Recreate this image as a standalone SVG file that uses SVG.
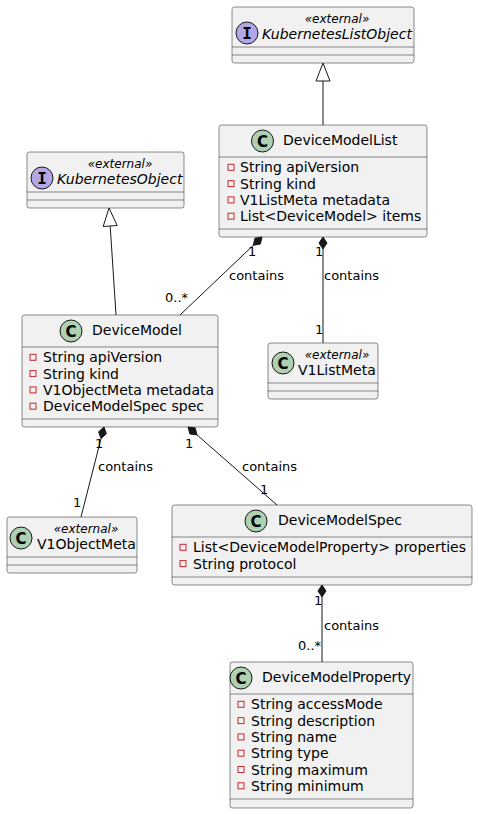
<svg xmlns="http://www.w3.org/2000/svg" width="478" height="814" viewBox="0 0 478 814">
<style>
.box{fill:#F1F1F1;stroke:#181818;stroke-width:0.5}
.sep{stroke:#181818;stroke-width:0.5}
.cc{fill:#ADD1B2;stroke:#181818;stroke-width:1}
.ic{fill:#B4A7E5;stroke:#181818;stroke-width:1}
.cl{font-family:"DejaVu Sans",sans-serif;font-weight:bold;font-size:15px;fill:#000;text-anchor:middle}
.il{font-family:"DejaVu Sans Mono",monospace;font-weight:bold;font-size:16px;fill:#000;text-anchor:middle}
.t{font-family:"DejaVu Sans",sans-serif;font-size:14px;fill:#000}
.it{font-family:"DejaVu Sans",sans-serif;font-size:14px;font-style:italic;fill:#000}
.st{font-family:"DejaVu Sans",sans-serif;font-size:12px;font-style:italic;fill:#000;text-anchor:middle}
.pv{fill:none;stroke:#C82930;stroke-width:1}
.e{stroke:#181818;stroke-width:1;fill:none}
.d{fill:#181818;stroke:#181818;stroke-width:1}
.tri{fill:#FFFFFF;stroke:#181818;stroke-width:1}
.lb{font-family:"DejaVu Sans",sans-serif;font-size:13px;fill:#000}
</style>
<rect width="478" height="814" fill="#FFFFFF"/>

<g id="KubernetesListObject">
<rect class="box" x="232" y="7" width="182" height="56" rx="2.5"/>
<circle class="ic" cx="247" cy="33" r="11"/>
<text class="il" x="247" y="38.5">I</text>
<text class="st" x="337" y="23">«external»</text>
<text class="it" x="262" y="39">KubernetesListObject</text>
<line class="sep" x1="232" y1="47" x2="414" y2="47"/>
<line class="sep" x1="232" y1="55" x2="414" y2="55"/>
</g>

<g id="KubernetesObject">
<rect class="box" x="27" y="152" width="157" height="56" rx="2.5"/>
<circle class="ic" cx="42" cy="178" r="11"/>
<text class="il" x="42" y="183.5">I</text>
<text class="st" x="120" y="168">«external»</text>
<text class="it" x="57" y="184">KubernetesObject</text>
<line class="sep" x1="27" y1="192" x2="184" y2="192"/>
<line class="sep" x1="27" y1="200" x2="184" y2="200"/>
</g>

<g id="DeviceModelList">
<rect class="box" x="219" y="125" width="208" height="112" rx="2.5"/>
<circle class="cc" cx="262.5" cy="141" r="11"/>
<text class="cl" x="262.5" y="146.5">C</text>
<text class="t" x="283" y="145">DeviceModelList</text>
<line class="sep" x1="219" y1="157" x2="427" y2="157"/>
<rect class="pv" x="228" y="164.3" width="6" height="6"/>
<text class="t" x="240" y="172.3">String apiVersion</text>
<rect class="pv" x="228" y="180.6" width="6" height="6"/>
<text class="t" x="240" y="188.6">String kind</text>
<rect class="pv" x="228" y="196.9" width="6" height="6"/>
<text class="t" x="240" y="204.9">V1ListMeta metadata</text>
<rect class="pv" x="228" y="213.2" width="6" height="6"/>
<text class="t" x="240" y="221.2">List&lt;DeviceModel&gt; items</text>
<line class="sep" x1="219" y1="229" x2="427" y2="229"/>
</g>

<g id="DeviceModel">
<rect class="box" x="22" y="315" width="196" height="112" rx="2.5"/>
<circle class="cc" cx="71" cy="331" r="11"/>
<text class="cl" x="71" y="336.5">C</text>
<text class="t" x="92" y="335">DeviceModel</text>
<line class="sep" x1="22" y1="347" x2="218" y2="347"/>
<rect class="pv" x="30" y="354.3" width="6" height="6"/>
<text class="t" x="43" y="362.3">String apiVersion</text>
<rect class="pv" x="30" y="370.6" width="6" height="6"/>
<text class="t" x="43" y="378.6">String kind</text>
<rect class="pv" x="30" y="386.9" width="6" height="6"/>
<text class="t" x="43" y="394.9">V1ObjectMeta metadata</text>
<rect class="pv" x="30" y="403.2" width="6" height="6"/>
<text class="t" x="43" y="411.2">DeviceModelSpec spec</text>
<line class="sep" x1="22" y1="419" x2="218" y2="419"/>
</g>

<g id="V1ListMeta">
<rect class="box" x="268" y="343" width="110" height="56" rx="2.5"/>
<circle class="cc" cx="283" cy="363" r="11"/>
<text class="cl" x="283" y="368.5">C</text>
<text class="st" x="337" y="359">«external»</text>
<text class="t" x="298" y="375">V1ListMeta</text>
<line class="sep" x1="268" y1="383" x2="378" y2="383"/>
<line class="sep" x1="268" y1="391" x2="378" y2="391"/>
</g>

<g id="V1ObjectMeta">
<rect class="box" x="7" y="517" width="130" height="56" rx="2.5"/>
<circle class="cc" cx="21" cy="538" r="11"/>
<text class="cl" x="21" y="543.5">C</text>
<text class="st" x="86" y="533">«external»</text>
<text class="t" x="37" y="549">V1ObjectMeta</text>
<line class="sep" x1="7" y1="557" x2="137" y2="557"/>
<line class="sep" x1="7" y1="565" x2="137" y2="565"/>
</g>

<g id="DeviceModelSpec">
<rect class="box" x="172" y="505" width="300" height="80" rx="2.5"/>
<circle class="cc" cx="256" cy="521" r="11"/>
<text class="cl" x="256" y="526.5">C</text>
<text class="t" x="278" y="525">DeviceModelSpec</text>
<line class="sep" x1="172" y1="537" x2="472" y2="537"/>
<rect class="pv" x="180" y="544.3" width="6" height="6"/>
<text class="t" x="193" y="552.3">List&lt;DeviceModelProperty&gt; properties</text>
<rect class="pv" x="180" y="560.6" width="6" height="6"/>
<text class="t" x="193" y="568.6">String protocol</text>
<line class="sep" x1="172" y1="577" x2="472" y2="577"/>
</g>

<g id="DeviceModelProperty">
<rect class="box" x="230" y="662" width="183" height="146" rx="2.5"/>
<circle class="cc" cx="241" cy="678" r="11"/>
<text class="cl" x="241" y="683.5">C</text>
<text class="t" x="262" y="682">DeviceModelProperty</text>
<line class="sep" x1="230" y1="694" x2="413" y2="694"/>
<rect class="pv" x="238" y="701.3" width="6" height="6"/>
<text class="t" x="251" y="709.3">String accessMode</text>
<rect class="pv" x="238" y="717.6" width="6" height="6"/>
<text class="t" x="251" y="725.6">String description</text>
<rect class="pv" x="238" y="733.9" width="6" height="6"/>
<text class="t" x="251" y="741.9">String name</text>
<rect class="pv" x="238" y="750.2" width="6" height="6"/>
<text class="t" x="251" y="758.2">String type</text>
<rect class="pv" x="238" y="766.5" width="6" height="6"/>
<text class="t" x="251" y="774.5">String maximum</text>
<rect class="pv" x="238" y="782.8" width="6" height="6"/>
<text class="t" x="251" y="790.8">String minimum</text>
<line class="sep" x1="230" y1="799" x2="413" y2="799"/>
</g>

<g id="connectors">
<line class="e" x1="323" y1="81" x2="323" y2="125"/>
<polygon class="tri" points="323,63 316,81 330,81"/>
<line class="e" x1="110.2" y1="226" x2="116" y2="315"/>
<polygon class="tri" points="109,208 117.2,225.5 103.2,226.5"/>

<line class="e" x1="253.3" y1="245.3" x2="180" y2="315"/>
<polygon class="d" points="262,237 260.4,244 253.3,245.3 254.9,238.2"/>
<text class="lb" x="248" y="256">1</text>
<text class="lb" x="229" y="280">contains</text>
<text class="lb" x="165" y="302">0..*</text>

<line class="e" x1="323" y1="249" x2="323" y2="343"/>
<polygon class="d" points="323,237 327,243 323,249 319,243"/>
<text class="lb" x="315" y="256">1</text>
<text class="lb" x="324" y="280">contains</text>
<text class="lb" x="315" y="334">1</text>

<line class="e" x1="101" y1="438.6" x2="81" y2="517"/>
<polygon class="d" points="104,427 106.4,433.8 101,438.6 98.6,431.8"/>
<text class="lb" x="95" y="448">1</text>
<text class="lb" x="98" y="471">contains</text>
<text class="lb" x="73" y="507">1</text>

<line class="e" x1="197" y1="434.9" x2="277" y2="505"/>
<polygon class="d" points="188,427 195.2,427.9 197,434.9 189.9,434"/>
<text class="lb" x="185" y="448">1</text>
<text class="lb" x="242" y="471">contains</text>
<text class="lb" x="260" y="494">1</text>

<line class="e" x1="322" y1="597" x2="322" y2="662"/>
<polygon class="d" points="322,585 326,591 322,597 318,591"/>
<text class="lb" x="314" y="605">1</text>
<text class="lb" x="324" y="630">contains</text>
<text class="lb" x="298" y="650">0..*</text>
</g>
</svg>
